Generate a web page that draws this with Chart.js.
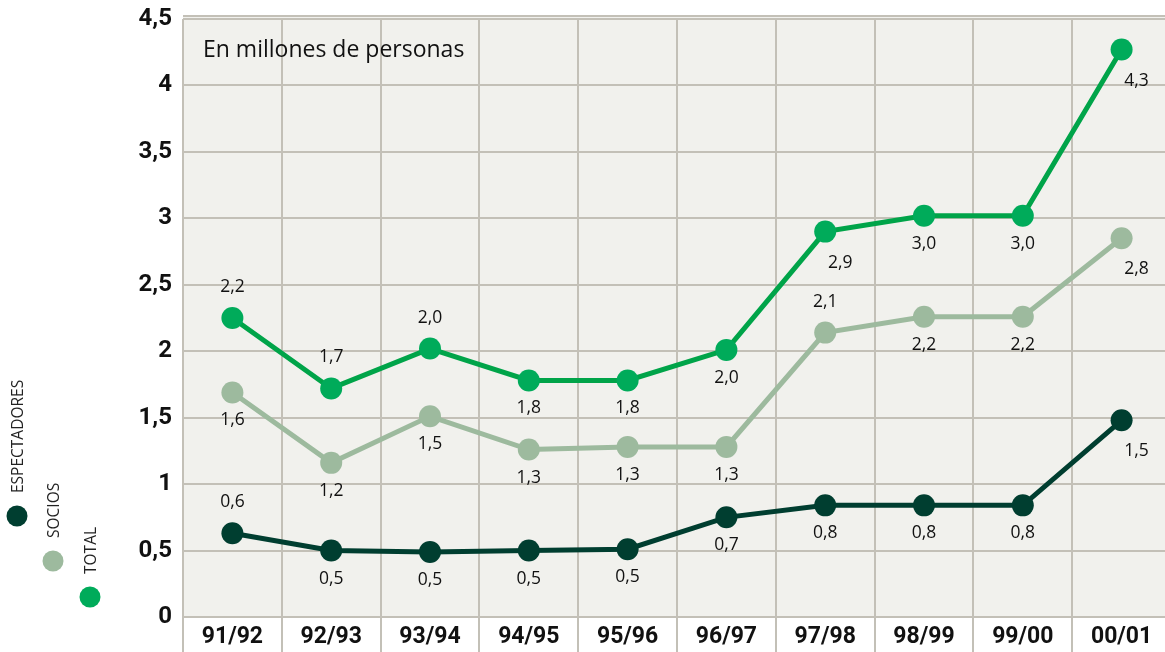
<!DOCTYPE html>
<html>
<head>
<meta charset="utf-8">
<script src="https://cdn.jsdelivr.net/npm/chart.js@4.4.0/dist/chart.umd.min.js"></script>
<style>
  html, body { margin: 0; padding: 0; background: #fff; overflow: hidden; }
  canvas { display: block; }
</style>
</head>
<body>
<canvas id="chart" width="1182" height="652"></canvas>
<script>
// Data (millions of people)
const seasons = ['91/92', '92/93', '93/94', '94/95', '95/96', '96/97', '97/98', '98/99', '99/00', '00/01'];
const espectadores = [0.63, 0.50, 0.49, 0.50, 0.51, 0.75, 0.84, 0.84, 0.84, 1.48];
const socios = [1.69, 1.16, 1.51, 1.26, 1.28, 1.28, 2.14, 2.26, 2.26, 2.85];
const total = [2.25, 1.72, 2.02, 1.78, 1.78, 2.01, 2.90, 3.02, 3.02, 4.27];

// printed value labels (as in the original, rounded)
const espectadoresLabels = ['0,6', '0,5', '0,5', '0,5', '0,5', '0,7', '0,8', '0,8', '0,8', '1,5'];
const sociosLabels = ['1,6', '1,2', '1,5', '1,3', '1,3', '1,3', '2,1', '2,2', '2,2', '2,8'];
const totalLabels = ['2,2', '1,7', '2,0', '1,8', '1,8', '2,0', '2,9', '3,0', '3,0', '4,3'];

// where each label sits relative to its point: a = above, b = below, r = below right
const espectadoresSide = ['a', 'b', 'b', 'b', 'b', 'b', 'b', 'b', 'b', 'r'];
const sociosSide = ['b', 'b', 'b', 'b', 'b', 'b', 'a', 'b', 'b', 'r'];
const totalSide = ['a', 'a', 'a', 'b', 'b', 'b', 'r', 'b', 'b', 'r'];

const yTicks = [0, 0.5, 1, 1.5, 2, 2.5, 3, 3.5, 4, 4.5];

const colEsp = '#003e30';
const colSoc = '#9dba9e';
const colTot = '#00a449';
const colTotPt = '#00ab5a';
const gridCol = '#c3c0b7';

function ds(label, data, color, ptColor, texts, sides) {
    return {
        label, data, texts, sides,
        borderColor: color,
        backgroundColor: ptColor,
        pointBackgroundColor: ptColor,
        pointBorderWidth: 0,
        pointRadius: 11,
        pointHoverRadius: 11,
        borderWidth: 5,
        tension: 0
    };
}

// plot background + caption
const backdrop = {
    id: 'backdrop',
    beforeDraw(chart) {
        const { ctx, chartArea: a } = chart;
        ctx.save();
        ctx.fillStyle = '#f1f1ed';
        ctx.fillRect(a.left, a.top - 3, a.right - a.left, a.bottom - a.top + 3);
        ctx.strokeStyle = gridCol;
        ctx.lineWidth = 2;
        ctx.beginPath();
        ctx.moveTo(a.left, a.top - 3);
        ctx.lineTo(a.right, a.top - 3);
        ctx.stroke();
        ctx.restore();
    },
    afterDraw(chart) {
        const { ctx } = chart;
        ctx.save();
        ctx.fillStyle = '#111';
        ctx.font = '23px "Open Sans"';
        ctx.textBaseline = 'middle';
        ctx.fillText('En millones de personas', 203, 50);
        ctx.restore();
    }
};

// value labels next to the points
const valueLabels = {
    id: 'valueLabels',
    afterDatasetsDraw(chart) {
        const { ctx } = chart;
        ctx.save();
        ctx.fillStyle = '#111';
        ctx.font = '17.5px "Open Sans"';
        ctx.textAlign = 'center';
        ctx.textBaseline = 'middle';
        chart.data.datasets.forEach((d, i) => {
            chart.getDatasetMeta(i).data.forEach((pt, j) => {
                const side = d.sides[j];
                let dx = 0, dy = 28;
                if (side === 'a') dy = -31;
                if (side === 'r') { dx = 15; dy = 31; }
                ctx.fillText(d.texts[j], pt.x + dx, pt.y + dy);
            });
        });
        ctx.restore();
    }
};

// rotated legend in the left margin
const sideLegend = {
    id: 'sideLegend',
    afterDraw(chart) {
        const { ctx } = chart;
        const items = [
            { text: 'ESPECTADORES', color: colEsp, x: 17, y: 516 },
            { text: 'SOCIOS', color: colSoc, x: 53, y: 561 },
            { text: 'TOTAL', color: colTotPt, x: 90, y: 597 }
        ];
        ctx.save();
        items.forEach(it => {
            ctx.fillStyle = it.color;
            ctx.beginPath();
            ctx.arc(it.x, it.y, 10.5, 0, Math.PI * 2);
            ctx.fill();
            ctx.save();
            ctx.translate(it.x + 2, it.y - 23);
            ctx.rotate(-Math.PI / 2);
            ctx.fillStyle = '#222';
            ctx.font = '15.5px "Open Sans"';
            ctx.textAlign = 'left';
            ctx.textBaseline = 'middle';
            ctx.fillText(it.text, 0, 0);
            ctx.restore();
        });
        ctx.restore();
    }
};

new Chart(document.getElementById('chart'), {
    type: 'line',
    data: {
        labels: seasons,
        datasets: [
            ds('ESPECTADORES', espectadores, colEsp, colEsp, espectadoresLabels, espectadoresSide),
            ds('SOCIOS', socios, colSoc, colSoc, sociosLabels, sociosSide),
            ds('TOTAL', total, colTot, colTotPt, totalLabels, totalSide)
        ]
    },
    options: {
        responsive: false,
        animation: false,
        devicePixelRatio: 1,
        layout: { padding: { top: 19, left: 0, right: 0, bottom: 0 } },
        plugins: { legend: { display: false }, tooltip: { enabled: false } },
        scales: {
            x: {
                offset: true,
                afterFit(scale) { scale.height = 35; },
                grid: { offset: true, color: gridCol, lineWidth: 2, drawTicks: true, tickLength: 35 },
                border: { display: false },
                ticks: {
                    color: '#111',
                    font: { family: 'Roboto', size: 23, weight: 'bold' },
                    padding: -29,
                    maxRotation: 0
                }
            },
            y: {
                min: 0,
                max: 4.5,
                afterFit(scale) {
                    scale.width = 183;
                    scale.paddingTop = 0;
                    scale.paddingBottom = 0;
                },
                afterBuildTicks(scale) { scale.ticks = yTicks.map(v => ({ value: v })); },
                grid: { color: gridCol, lineWidth: 2, drawTicks: false },
                border: { display: false },
                ticks: {
                    color: '#111',
                    padding: 11,
                    font: { family: 'Roboto', size: 24, weight: 'bold' },
                    callback: v => String(v).replace('.', ',')
                }
            }
        }
    },
    plugins: [backdrop, valueLabels, sideLegend]
});
</script>
</body>
</html>
